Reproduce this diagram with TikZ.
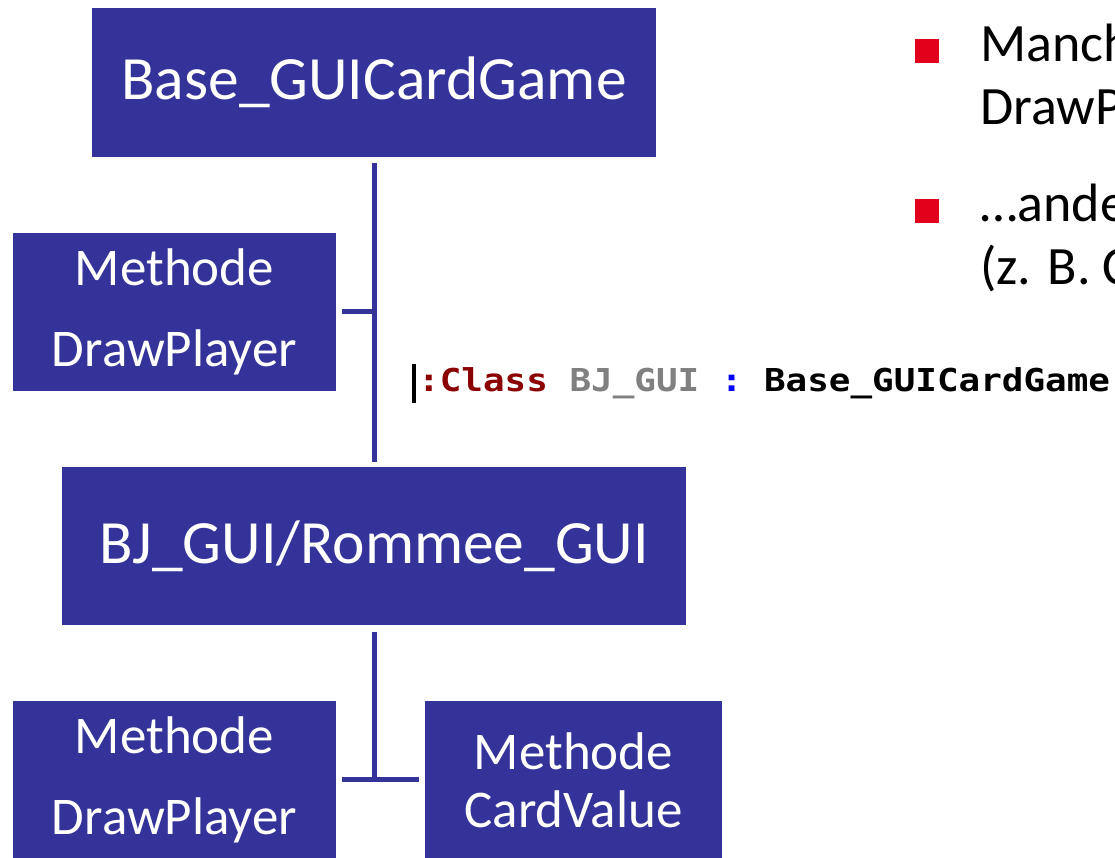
\documentclass[tikz,border=0pt]{standalone}
\usepackage{fontspec}
\setmainfont{Carlito}
\newfontfamily\codefont[FakeStretch=1.14]{DejaVu Sans Mono}
\usepackage{tikz}
\usetikzlibrary{positioning}
\definecolor{boxblue}{HTML}{333399}
\definecolor{bulletred}{HTML}{E2001A}
\definecolor{kwred}{HTML}{8B0000}
\tikzset{box/.style={fill=boxblue,text=white,inner sep=0pt,align=center}}
\tikzset{link/.style={draw=boxblue,line width=5pt}}
\tikzset{bullet/.style={fill=bulletred,minimum size=24pt,inner sep=0pt}}
\tikzset{bigfont/.style={font=\fontsize{61.5}{72}\selectfont}}
\tikzset{note/.style={anchor=base west,align=left,inner sep=0pt,font=\fontsize{54}{63}\selectfont}}

\begin{document}
\begin{tikzpicture}[x=1pt,y=1pt]
            \useasboundingbox[fill=white] (0,0) rectangle (1115,858);
            \node[box,bigfont,minimum width=564pt,minimum height=149pt] (base) at (374,775.5) {Base\_GUICardGame};
            \node[box,minimum width=323pt,minimum height=158pt,font=\fontsize{53}{81}\selectfont] (draw1) at (174.5,546) {Methode\\DrawPlayer};
            \node[box,bigfont,minimum width=624pt,minimum height=158pt] (bjgui) at (374,312) {BJ\_GUI/Rommee\_GUI};
            \node[box,minimum width=323pt,minimum height=158pt,font=\fontsize{53}{81}\selectfont] (draw2) at (174.5,78) {Methode\\DrawPlayer};
            \node[box,minimum width=297pt,minimum height=158pt,font=\fontsize{53}{58}\selectfont] (cardval) at (573.5,78) {Methode\\CardValue};
            \draw[link] ([yshift=-6pt]base.south) -- ([yshift=5pt]bjgui.north);
            \draw[link] ([xshift=6pt]draw1.east) -- (draw1.east -| base.south);
            \draw[link] ([yshift=-7pt]bjgui.south) -- (bjgui.south |- draw2.east);
            \draw[link] ([xshift=6pt]draw2.east) -- ([xshift=-6pt]cardval.west);
            % code line
            \node[anchor=base west,inner sep=0pt,font=\codefont\bfseries\fontsize{31.5}{36}\selectfont] (code) at (418,466)
                {\textcolor{kwred}{:Class} \textcolor{gray}{BJ\_GUI} \textcolor{blue}{:} Base\_GUICardGame};
            \draw[line width=3.5pt] ([xshift=-4pt,yshift=-11pt]code.base west) -- ([xshift=-4pt,yshift=28pt]code.base west);
            % notes
            \node[bullet] (dot1) at (927,807) {};
            \node[note] (note1) at (980,733) {Manch\\DrawP};
            \node[bullet] (dot2) at (927,647) {};
            \node[note] (note2) at (980,573) {…ande\\(z. B. C};
\end{tikzpicture}
\end{document}
